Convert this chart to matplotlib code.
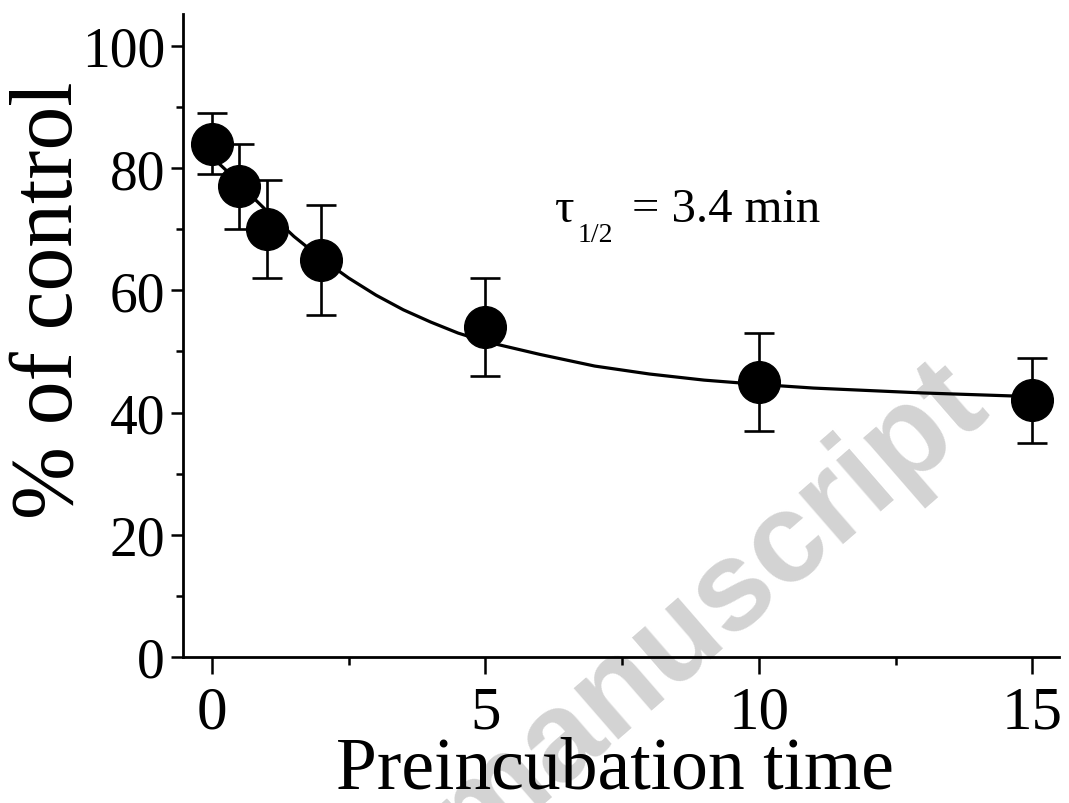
import numpy as np
import matplotlib.pyplot as plt

plt.rcParams["font.family"] = ["Liberation Serif", "DejaVu Serif"]

# measured points
time_min = [0, 0.5, 1, 2, 5, 10, 15]
pct_control = [84, 77, 70, 65, 54, 45, 42]
pct_err = [5, 7, 8, 9, 8, 8, 7]

# fitted curve
fit_t = [0, 0.25, 0.5, 0.75, 1, 1.5, 2, 2.5, 3, 3.5, 4, 4.5, 5,
         6, 7, 8, 9, 10, 11, 12, 13, 14, 15]
fit_y = [81.8, 79.7, 77.4, 75.2, 73.0, 68.8, 65.2, 62.0, 59.2, 56.8, 54.8, 53.0, 51.6,
         49.5, 47.6, 46.3, 45.3, 44.6, 44.0, 43.6, 43.2, 42.9, 42.6]

x_ticks = [0, 5, 10, 15]
y_ticks = [0, 20, 40, 60, 80, 100]

W, H = 1069, 804

fig = plt.figure(figsize=(W / 100, H / 100), dpi=100)
ax = fig.add_axes([183 / W, 1 - 658 / H, 876 / W, 643 / H])
ax.patch.set_facecolor("none")

# watermark behind everything
fig.text(
    992 / W, 1 - 415 / H,
    "Accepted manuscript",
    family="Liberation Sans",
    weight="bold",
    fontsize=92,
    color="#d3d3d3",
    rotation=41,
    rotation_mode="anchor",
    ha="right",
    va="baseline",
    zorder=-5,
)

ax.plot(fit_t, fit_y, color="black", linewidth=2.3, zorder=2)

ax.errorbar(
    time_min,
    pct_control,
    yerr=pct_err,
    fmt="o",
    color="black",
    markersize=30,
    elinewidth=1.9,
    capsize=11,
    capthick=1.9,
    zorder=3,
)

# tau 1/2 annotation
fig.text(555 / W, 1 - 222 / H, "\u03c4", fontsize=35, va="baseline")
fig.text(578 / W, 1 - 242 / H, "1/2", fontsize=20, va="baseline")
fig.text(632 / W, 1 - 222 / H, "= 3.4 min", fontsize=35, va="baseline")

ax.set_xlim(-0.53, 15.49)
ax.set_ylim(0, 105.2)
ax.set_xticks(x_ticks)
ax.set_xticks([2.5, 7.5, 12.5], minor=True)
ax.set_yticks(y_ticks)
ax.set_yticks([10, 30, 50, 70, 90], minor=True)

ax.spines["top"].set_visible(False)
ax.spines["right"].set_visible(False)
ax.spines["left"].set_linewidth(2)
ax.spines["bottom"].set_linewidth(2)

ax.tick_params(axis="x", which="major", length=12, width=1.8, labelsize=44, pad=8)
ax.tick_params(axis="x", which="minor", length=6, width=1.8)
ax.tick_params(axis="y", which="major", length=9, width=1.8, labelsize=40, pad=4)
ax.tick_params(axis="y", which="minor", length=5, width=1.8)

fig.text(615 / W, 1 - 789 / H, "Preincubation time", fontsize=53,
         ha="center", va="baseline")
fig.text(72 / W, 1 - 300 / H, "% of control", fontsize=63, rotation=90,
         rotation_mode="anchor", ha="center", va="baseline")

fig.savefig("out.png", dpi=100)
